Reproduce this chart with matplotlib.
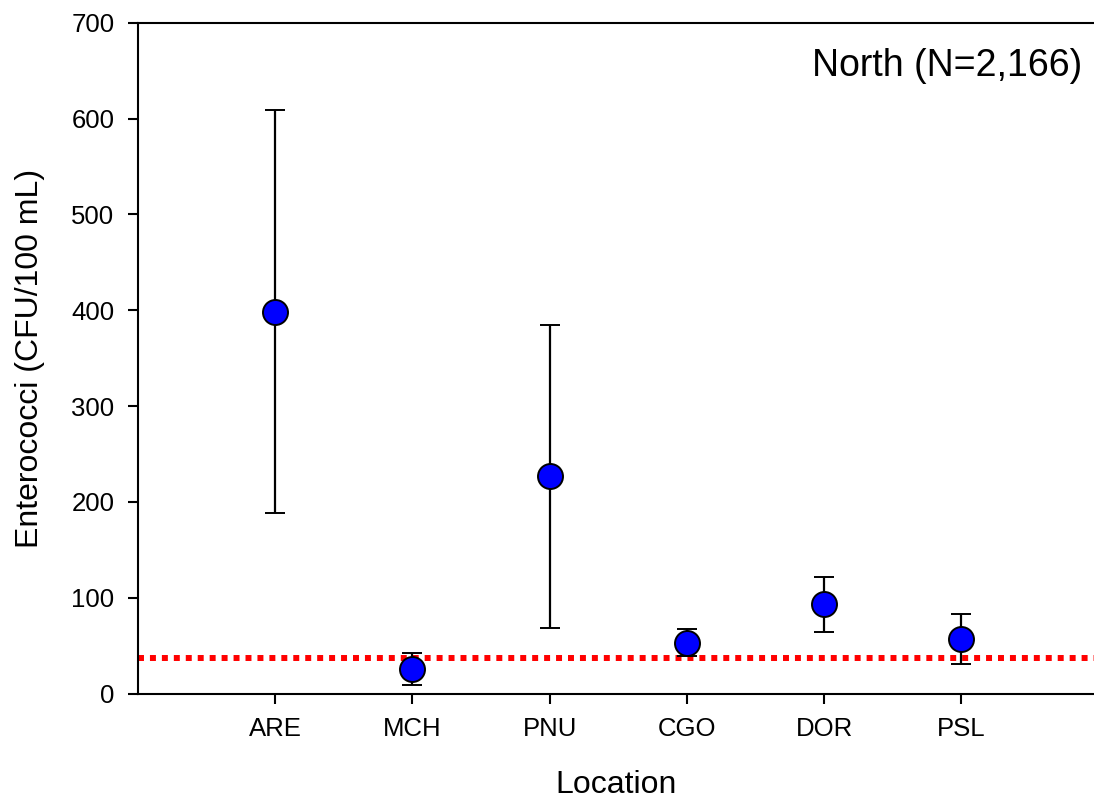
import numpy as np
import matplotlib
matplotlib.use("Agg")
import matplotlib.pyplot as plt
from matplotlib import rc

rc('font', **{'family': 'sans-serif', 'sans-serif': ['Liberation Sans', 'DejaVu Sans']})

locations = ["ARE", "MCH", "PNU", "CGO", "DOR", "PSL"]
means = [398, 26, 227, 53, 93, 57]
upper = [609, 42, 385, 67, 122, 83]
lower = [188, 9, 68, 39, 64, 31]
threshold = 37
region_label = "North (N=2,166)"

fig = plt.figure(figsize=(10.94, 8.02), dpi=100)
ax = fig.add_axes([138/1094, (802-693.5)/802, (1094-138)/1094, 670.8/802])

xpos = np.arange(1, len(locations) + 1)
means_a = np.array(means)
yerr = [means_a - np.array(lower), np.array(upper) - means_a]

# dotted threshold line behind the points
ax.axhline(threshold, color='red', lw=4.3, ls=(0, (1, 1)), dash_capstyle='butt', zorder=1)
ax.errorbar(xpos, means, yerr=yerr, fmt='o', color='black', ecolor='black',
            elinewidth=1.6, capsize=7, capthick=1.6,
            markersize=18, markerfacecolor='blue', markeredgecolor='black',
            markeredgewidth=1.4, zorder=3)

ax.set_xlim(0, 956/137.2)
ax.set_ylim(0, 700)
ax.set_yticks(np.arange(0, 701, 100))
ax.set_xticks(xpos)
ax.set_xticklabels(locations)

for s in ['left', 'top', 'bottom']:
    ax.spines[s].set_linewidth(1.5)
ax.spines['right'].set_visible(False)

ax.tick_params(axis='both', direction='out', length=7, width=1.5, labelsize=18.5, pad=10)
ax.set_xlabel('Location', fontsize=23, labelpad=21)
ax.set_ylabel('Enterococci (CFU/100 mL)', fontsize=23, labelpad=19)

ax.text(6.88, 644, region_label, fontsize=27, ha='right', va='baseline')

fig.savefig('out.png', dpi=100)
